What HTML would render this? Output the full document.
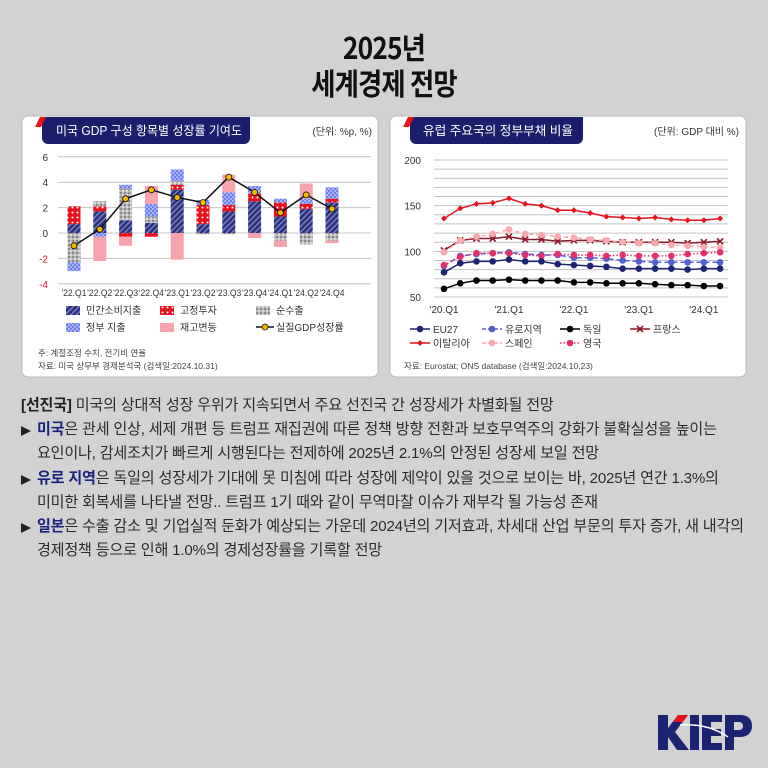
<!DOCTYPE html>
<html><head><meta charset="utf-8">
<style>
html,body{margin:0;padding:0}
body{width:768px;height:768px;background:#d3d2d3;position:relative;overflow:hidden;font-family:"Liberation Sans","Noto Sans CJK KR",sans-serif;}
.t{position:absolute;left:0;width:768px;text-align:center;font-family:"Noto Sans CJK KR",sans-serif;font-weight:bold;color:#111;font-size:30px;letter-spacing:-1px;transform:scaleX(.88);}
.body{position:absolute;left:21px;top:394px;width:745px;font-family:"Liberation Sans","Noto Sans CJK KR",sans-serif;font-size:15.1px;color:#2a2a2a;line-height:24.2px;letter-spacing:-0.2px;white-space:nowrap}
.body b{color:#1a237e}
.ind{padding-left:16px;position:relative}
.ind:before{content:"";position:absolute;left:0;top:8px;border-left:10px solid #222;border-top:5px solid transparent;border-bottom:5px solid transparent}
</style></head><body>
<div class="t" style="top:24px">2025년</div>
<div class="t" style="top:60px">세계경제 전망</div>
<svg id="s" width="768" height="768" style="position:absolute;left:0;top:0" font-family="Liberation Sans, Noto Sans CJK KR, sans-serif">
<defs>
<pattern id="pc" width="4" height="4" patternUnits="userSpaceOnUse" patternTransform="rotate(45)"><rect width="4" height="4" fill="#2b3180"/><rect width="1.2" height="4" fill="#8b90c8"/></pattern>
<pattern id="pf" width="5" height="5" patternUnits="userSpaceOnUse"><rect width="5" height="5" fill="#e8121f"/><circle cx="2.5" cy="2.5" r="1" fill="#fff"/></pattern>
<pattern id="pn" width="4" height="4" patternUnits="userSpaceOnUse"><rect width="4" height="4" fill="#b8b8b8"/><rect width="2" height="2" fill="#8a8a8a"/><rect x="2" y="2" width="2" height="2" fill="#d8d8d8"/></pattern>
<pattern id="pg" width="4" height="4" patternUnits="userSpaceOnUse"><rect width="4" height="4" fill="#6f7ff0"/><rect width="2" height="2" fill="#a8b2f8"/><rect x="2" y="2" width="2" height="2" fill="#a8b2f8"/></pattern>
</defs>
<rect x="22" y="116" width="356" height="261" rx="6" fill="#fff" stroke="#bbb"/>
<rect x="390" y="116" width="356" height="261" rx="6" fill="#fff" stroke="#bbb"/>
<path d="M42 117 H250 V138 a6 6 0 0 1 -6 6 H48 a6 6 0 0 1 -6 -6Z" fill="#1b1f6b"/>
<path d="M35 127 L40 117 H46 L41 127Z" fill="#e8121f"/>
<text x="56" y="135" fill="#fff" font-size="12.5" textLength="186" lengthAdjust="spacingAndGlyphs">미국 GDP 구성 항목별 성장률 기여도</text>
<text x="372" y="135" fill="#333" font-size="10" text-anchor="end">(단위: %p, %)</text>
<path d="M410 117 H583 V138 a6 6 0 0 1 -6 6 H416 a6 6 0 0 1 -6 -6Z" fill="#1b1f6b"/>
<path d="M403 127 L408 117 H414 L409 127Z" fill="#e8121f"/>
<text x="423" y="135" fill="#fff" font-size="12.5" textLength="150" lengthAdjust="spacingAndGlyphs">유럽 주요국의 정부부채 비율</text>
<text x="739" y="135" fill="#333" font-size="10" text-anchor="end">(단위: GDP 대비 %)</text>
<g id="L"></g><g id="R"></g>
<g font-size="10" fill="#333">
<rect x="66" y="306" width="14" height="9" fill="url(#pc)"/><text x="86" y="314">민간소비지출</text>
<rect x="160" y="306" width="14" height="9" fill="url(#pf)"/><text x="180" y="314">고정투자</text>
<rect x="256" y="306" width="14" height="9" fill="url(#pn)"/><text x="276" y="314">순수출</text>
<rect x="66" y="323" width="14" height="9" fill="url(#pg)"/><text x="86" y="331">정부 지출</text>
<rect x="160" y="323" width="14" height="9" fill="#f7a3ad"/><text x="180" y="331">재고변동</text>
<line x1="256" y1="327" x2="274" y2="327" stroke="#111" stroke-width="1.5"/><circle cx="265" cy="327" r="3" fill="#f5b800" stroke="#111" stroke-width=".8"/><text x="276" y="331">실질GDP성장률</text>
</g>
<text x="38" y="356" font-size="8.5" fill="#444">주: 계절조정 수치, 전기비 연율</text>
<text x="38" y="369" font-size="8.5" fill="#444">자료: 미국 상무부 경제분석국 (검색일:2024.10.31)</text>
<text x="404" y="369" font-size="8.5" fill="#444">자료: Eurostat; ONS database (검색일:2024.10.23)</text>
<g id="RL" font-size="10" fill="#333"></g>
<g transform="translate(658,715)">
<path d="M0 0H10V13L20 0H30L17 17L31 35H19L10 22V35H0Z" fill="#1c2372"/>
<path d="M20 0H30L25 7H15Z" fill="#e8121f"/>
<rect x="32" y="0" width="9" height="35" fill="#1c2372"/>
<path d="M44 0H64V7H53V14H63V21H53V28H64V35H44Z" fill="#1c2372"/>
<path d="M67 0H82C92 0 94 6 94 11C94 17 90 22 82 22H76V35H67ZM76 7V15H81C84 15 85 13 85 11C85 9 84 7 81 7Z" fill="#1c2372"/>
<path d="M22 10 Q50 8 70 22" stroke="#fff" stroke-width="1.5" fill="none"/>
</g>
</svg>
<div class="body">
<div><span style="font-weight:bold;color:#222">[선진국]</span> 미국의 상대적 성장 우위가 지속되면서 주요 선진국 간 성장세가 차별화될 전망</div>
<div class="ind"><b>미국</b>은 관세 인상, 세제 개편 등 트럼프 재집권에 따른 정책 방향 전환과 보호무역주의 강화가 불확실성을 높이는<br>요인이나, 감세조치가 빠르게 시행된다는 전제하에 2025년 2.1%의 안정된 성장세 보일 전망</div>
<div class="ind"><b>유로 지역</b>은 독일의 성장세가 기대에 못 미침에 따라 성장에 제약이 있을 것으로 보이는 바, 2025년 연간 1.3%의<br>미미한 회복세를 나타낼 전망.. 트럼프 1기 때와 같이 무역마찰 이슈가 재부각 될 가능성 존재</div>
<div class="ind"><b>일본</b>은 수출 감소 및 기업실적 둔화가 예상되는 가운데 2024년의 기저효과, 차세대 산업 부문의 투자 증가, 새 내각의<br>경제정책 등으로 인해 1.0%의 경제성장률을 기록할 전망</div>
</div>
<script>
var NS="http://www.w3.org/2000/svg";
function el(p,t,a,txt){var e=document.createElementNS(NS,t);for(var k in a)e.setAttribute(k,a[k]);if(txt!=null)e.textContent=txt;p.appendChild(e);return e;}
var L=document.getElementById("L");
function yl(v){return 233-12.7*v;}
for(var v=-4;v<=6;v+=2){el(L,"line",{x1:58,x2:371,y1:yl(v),y2:yl(v),stroke:"#c4c4c4","stroke-width":1});
el(L,"text",{x:48,y:yl(v)+4,"font-size":10,"text-anchor":"end",fill:v<0?"#e8121f":"#333"},String(v));}
var C="url(#pc)",F="url(#pf)",N="url(#pn)",G="url(#pg)",I="#f7a3ad";
var bars=[
[[C,0,.7],[F,.7,2.1],[N,0,-2.3],[G,-2.3,-3.0]],
[[C,0,1.7],[F,1.7,2.1],[N,2.1,2.5],[G,0,-.3],[I,-.3,-2.2]],
[[C,0,1.0],[N,1.0,3.5],[G,3.5,3.8],[F,0,-.3],[I,-.3,-1.0]],
[[C,0,.8],[N,.8,1.3],[G,1.3,2.3],[I,2.3,3.7],[F,0,-.3]],
[[C,0,3.4],[F,3.4,3.8],[N,3.8,4.1],[G,4.1,5.0],[I,0,-2.1]],
[[C,0,.7],[F,.7,2.2],[G,2.2,2.6],[N,0,-.1]],
[[C,0,1.7],[F,1.7,2.2],[G,2.2,3.2],[I,3.2,4.6],[N,0,-.1]],
[[C,0,2.5],[F,2.5,3.1],[G,3.1,3.7],[I,0,-.4]],
[[C,0,1.3],[F,1.3,2.4],[G,2.4,2.7],[N,0,-.6],[I,-.6,-1.1]],
[[C,0,1.9],[F,1.9,2.3],[G,2.3,2.7],[I,2.7,3.9],[N,0,-.9]],
[[C,0,2.4],[F,2.4,2.7],[G,2.7,3.6],[N,0,-.6],[I,-.6,-.8]]];
var gdp=[-1.0,.3,2.7,3.4,2.8,2.4,4.4,3.2,1.6,3.0,1.9];
var labs=["'22.Q1","'22.Q2","'22.Q3","'22.Q4","'23.Q1","'23.Q2","'23.Q3","'23.Q4","'24.Q1","'24.Q2","'24.Q4"];
function xl(i){return 74+25.8*i;}
bars.forEach(function(b,i){b.forEach(function(s){var a=yl(s[1]),c=yl(s[2]);el(L,"rect",{x:xl(i)-6.5,y:Math.min(a,c),width:13,height:Math.abs(a-c),fill:s[0]});});
el(L,"text",{x:xl(i),y:296,"font-size":9.5,"text-anchor":"middle",fill:"#333",textLength:25,lengthAdjust:"spacingAndGlyphs"},labs[i]);});
el(L,"polyline",{points:gdp.map(function(v,i){return xl(i)+","+yl(v)}).join(" "),fill:"none",stroke:"#111","stroke-width":1.5});
gdp.forEach(function(v,i){el(L,"circle",{cx:xl(i),cy:yl(v),r:3,fill:"#f5b800",stroke:"#111","stroke-width":.8});});
var R=document.getElementById("R");
function yr(v){return 160+(200-v)*0.9133;}
function xr(i){return 444+16.24*i;}
for(var v=50;v<=200;v+=10){el(R,"line",{x1:434,x2:728,y1:yr(v),y2:yr(v),stroke:"#c4c4c4","stroke-width":1});}
[50,100,150,200].forEach(function(v){el(R,"text",{x:421,y:yr(v)+4,"font-size":10,"text-anchor":"end",fill:"#333"},String(v));});
["'20.Q1","'21.Q1","'22.Q1","'23.Q1","'24.Q1"].forEach(function(t,k){el(R,"text",{x:xr(k*4),y:313,"font-size":10,"text-anchor":"middle",fill:"#333"},t);});
var S=[
{d:[101,112,114,114,116,113,113,111,112,112,111,110,110,110,110,109,110,111],c:"#8b1a2b",m:"x"},
{d:[99,112,116,119,124,119,118,116,115,113,112,110,109,109,107,106,105,104],c:"#f9a9b0",m:"o",dash:"4 3"},
{d:[136,147,152,153,158,152,150,145,145,142,138,137,136,137,135,134,134,136],c:"#e8121f",m:"d"},
{d:[84,95,97,98,99,97,96,96,93,93,92,90,89,88,88,88,88,88],c:"#5560d0",m:"o",dash:"5 3"},
{d:[85,94,98,98,98,96,95,97,96,96,95,96,95,95,95,97,98,99],c:"#e0316e",m:"o",dash:"1.5 2"},
{d:[77,87,89,89,91,89,89,86,85,84,83,81,81,81,81,80,81,81],c:"#1f2470",m:"o"},
{d:[59,65,68,68,69,68,68,68,66,66,65,65,65,64,63,63,62,62],c:"#000",m:"o"}];
function mk(g,m,x,y,c){if(m=="o")el(g,"circle",{cx:x,cy:y,r:3.3,fill:c});
else if(m=="d")el(g,"path",{d:"M"+x+" "+(y-3)+"L"+(x+3)+" "+y+"L"+x+" "+(y+3)+"L"+(x-3)+" "+y+"Z",fill:c});
else el(g,"path",{d:"M"+(x-3)+" "+(y-3)+"L"+(x+3)+" "+(y+3)+"M"+(x+3)+" "+(y-3)+"L"+(x-3)+" "+(y+3),stroke:c,"stroke-width":1.6});}
S.forEach(function(s){var a={points:s.d.map(function(v,i){return xr(i)+","+yr(v)}).join(" "),fill:"none",stroke:s.c,"stroke-width":1.5};if(s.dash)a["stroke-dasharray"]=s.dash;el(R,"polyline",a);
s.d.forEach(function(v,i){mk(R,s.m,xr(i),yr(v),s.c);});});
var RL=document.getElementById("RL");
var leg=[["EU27","#1f2470","o",null,410,332],["유로지역","#5560d0","o","4 2",482,332],["독일","#000","o",null,560,332],["프랑스","#8b1a2b","x",null,630,332],
["이탈리아","#e8121f","d",null,410,346],["스페인","#f9a9b0","o","4 2",482,346],["영국","#e0316e","o","1.5 2",560,346]];
leg.forEach(function(l){var a={x1:l[4],x2:l[4]+20,y1:l[5]-3,y2:l[5]-3,stroke:l[1],"stroke-width":1.5};if(l[3])a["stroke-dasharray"]=l[3];el(RL,"line",a);mk(RL,l[2],l[4]+10,l[5]-3,l[1]);el(RL,"text",{x:l[4]+23,y:l[5]+1},l[0]);});
</script>
</body></html>
